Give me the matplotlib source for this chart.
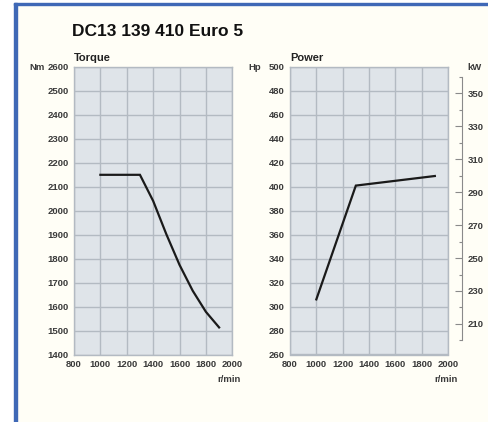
import matplotlib
matplotlib.use("Agg")
import matplotlib.pyplot as plt
from matplotlib.patches import Rectangle
from matplotlib.ticker import FixedLocator

# ---- data ----
title = "DC13 139 410 Euro 5"
torque_rpm = [1000, 1300, 1400, 1500, 1600, 1700, 1800, 1900]
torque_nm = [2150, 2150, 2041, 1902, 1774, 1666, 1578, 1513]
power_rpm = [1000, 1300, 1900]
power_hp = [306, 401, 409]
x_ticks = [800, 1000, 1200, 1400, 1600, 1800, 2000]
torque_ticks = [1400, 1500, 1600, 1700, 1800, 1900, 2000, 2100, 2200, 2300, 2400, 2500, 2600]
hp_ticks = [260, 280, 300, 320, 340, 360, 380, 400, 420, 440, 460, 480, 500]
kw_major = [210, 230, 250, 270, 290, 310, 330, 350]
kw_minor = [200, 220, 240, 260, 280, 300, 320, 340, 360]

W, H = 489, 422
fig = plt.figure(figsize=(W / 100, H / 100), dpi=100)
fig.patch.set_facecolor("#fffef6")

narrow = ["Liberation Sans Narrow", "Liberation Sans", "DejaVu Sans"]
sans = ["Liberation Sans", "DejaVu Sans"]
tick_color = "#3a3a3a"
face = "#dfe4e9"
grid_c = "#b3bac2"

# white margins and blue frame lines
fig.add_artist(Rectangle((0, 0), 15 / W, 1, transform=fig.transFigure, color="white", zorder=0))
fig.add_artist(Rectangle((0, 1 - 3 / H), 1, 3 / H, transform=fig.transFigure, color="white", zorder=0))
fig.add_artist(Rectangle((14.5 / W, 0), 2.5 / W, 1 - 3 / H, transform=fig.transFigure, color="#3f68b6", zorder=1))
fig.add_artist(Rectangle((14.5 / W, 1 - 5 / H), 1 - 14.5 / W, 2.2 / H, transform=fig.transFigure, color="#3f68b6", zorder=1))

bottom = (H - 354.5) / H
height = 287.5 / H
ax1 = fig.add_axes([74 / W, bottom, 158.3 / W, height])
ax2 = fig.add_axes([290 / W, bottom, 158 / W, height])


def style(ax, yticks, ylim):
    ax.set_facecolor(face)
    ax.set_xlim(800, 2000)
    ax.set_ylim(*ylim)
    ax.set_xticks(x_ticks)
    ax.set_yticks(yticks)
    ax.grid(True, color=grid_c, linewidth=1.0)
    ax.set_axisbelow(True)
    for s in ax.spines.values():
        s.set_color(grid_c)
        s.set_linewidth(1.0)
    ax.tick_params(length=0, pad=4, labelsize=6.8, labelcolor=tick_color)
    for lab in ax.get_xticklabels() + ax.get_yticklabels():
        lab.set_family(narrow)
        lab.set_fontweight("bold")


style(ax1, torque_ticks, (1400, 2600))
style(ax2, hp_ticks, (260, 500))

ax1.plot(torque_rpm, torque_nm, color="#1a1a1a", linewidth=1.6, solid_joinstyle="miter")
ax2.plot(power_rpm, power_hp, color="#1a1a1a", linewidth=1.6, solid_joinstyle="miter")

# kW axis
ax3 = ax2.twinx()
ax3.set_ylim(191.5, 365.8)
ax3.spines["right"].set_position(("outward", 10))
ax3.spines["right"].set_bounds(200, 360)
ax3.spines["right"].set_color("#8a8a8a")
ax3.spines["right"].set_linewidth(0.8)
for k in ["top", "bottom", "left"]:
    ax3.spines[k].set_visible(False)
ax3.yaxis.set_major_locator(FixedLocator(kw_major))
ax3.yaxis.set_minor_locator(FixedLocator(kw_minor))
ax3.tick_params(axis="y", which="major", direction="in", length=5, width=0.8, color="#8a8a8a",
                pad=4, labelsize=6.8, labelcolor=tick_color)
ax3.tick_params(axis="y", which="minor", direction="in", length=2.5, width=0.8, color="#8a8a8a")
for lab in ax3.get_yticklabels():
    lab.set_family(narrow)
    lab.set_fontweight("bold")

# texts
fig.text(72 / W, 1 - 32 / H, title, family=sans, fontweight="bold", fontsize=12.5,
         va="center", ha="left", color="#111111")
fig.text(74 / W, 1 - 58 / H, "Torque", family=sans, fontweight="bold", fontsize=8,
         va="center", ha="left", color="#222222")
fig.text(290 / W, 1 - 58 / H, "Power", family=sans, fontweight="bold", fontsize=8,
         va="center", ha="left", color="#222222")
fig.text(45 / W, 1 - 68 / H, "Nm", family=narrow, fontweight="bold", fontsize=6.8,
         va="center", ha="right", color=tick_color)
fig.text(261 / W, 1 - 68 / H, "Hp", family=narrow, fontweight="bold", fontsize=6.8,
         va="center", ha="right", color=tick_color)
fig.text(467 / W, 1 - 68 / H, "kW", family=narrow, fontweight="bold", fontsize=6.8,
         va="center", ha="left", color=tick_color)
fig.text(241 / W, 1 - 379 / H, "r/min", family=narrow, fontweight="bold", fontsize=6.8,
         va="center", ha="right", color=tick_color)
fig.text(458 / W, 1 - 379 / H, "r/min", family=narrow, fontweight="bold", fontsize=6.8,
         va="center", ha="right", color=tick_color)

fig.savefig("out.png", dpi=100, facecolor=fig.get_facecolor())
